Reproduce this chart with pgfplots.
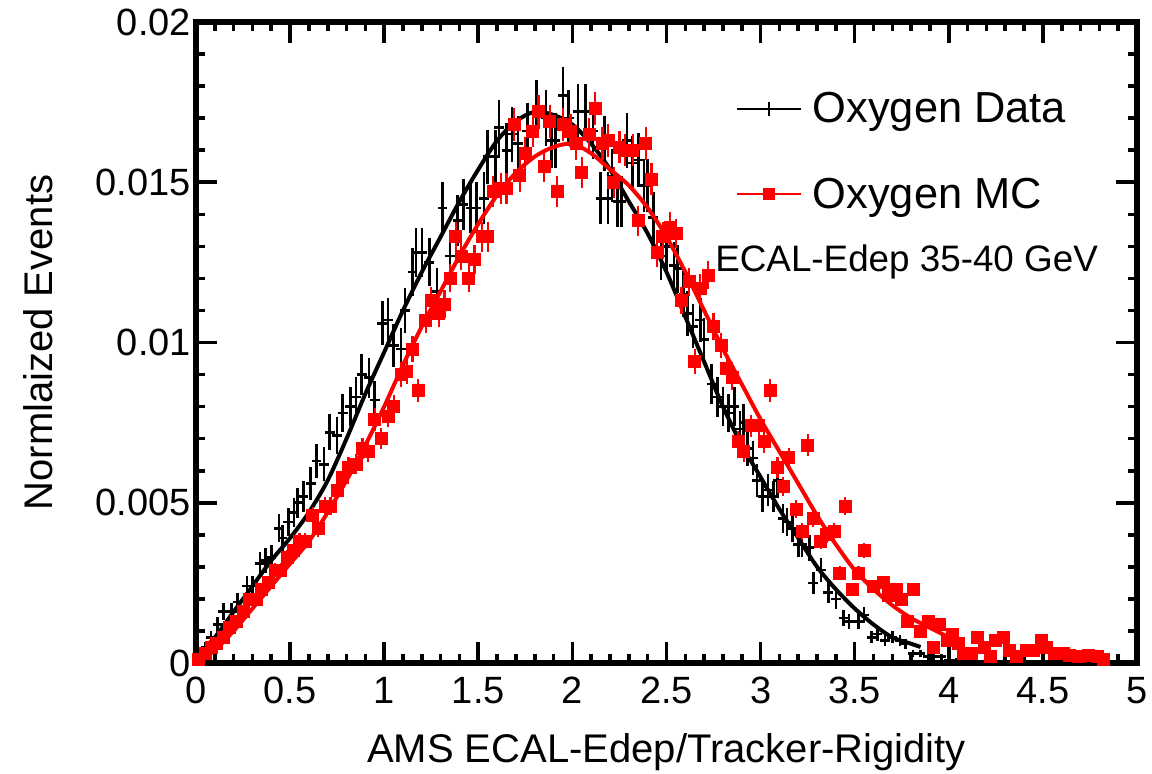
\documentclass[border=0pt]{standalone}
\usepackage{pgfplots}
\pgfplotsset{compat=1.18}
\usepackage{pgfplotstable}
\usepackage{fontspec}
\setmainfont{Liberation Sans}

\pgfplotstableread{
x y
0.02 0.0003
0.05 0.0005
0.08 0.0008
0.115 0.0012
0.145 0.0016
0.19 0.0016
0.22 0.0019
0.27 0.0024
0.30 0.0024
0.34 0.0031
0.37 0.0032
0.40 0.0033
0.44 0.0042
0.46 0.0039
0.49 0.0044
0.52 0.0047
0.54 0.0050
0.57 0.0052
0.61 0.0056
0.64 0.0063
0.68 0.0062
0.71 0.0072
0.75 0.0071
0.78 0.0078
0.82 0.0080
0.85 0.0083
0.88 0.0090
0.92 0.0089
0.95 0.0082
0.99 0.0106
1.02 0.0107
1.05 0.0099
1.09 0.0098
1.11 0.0110
1.15 0.0122
1.17 0.0128
1.20 0.0128
1.24 0.0125
1.28 0.0116
1.31 0.0142
1.35 0.0127
1.39 0.0138
1.42 0.0143
1.46 0.0142
1.49 0.0142
1.53 0.0145
1.55 0.0158
1.59 0.0158
1.61 0.0167
1.65 0.0160
1.68 0.0165
1.71 0.0162
1.76 0.0166
1.81 0.0173
1.86 0.0170
1.89 0.0163
1.91 0.0163
1.95 0.0177
1.98 0.0170
2.03 0.0172
2.07 0.0172
2.11 0.0166
2.15 0.0145
2.17 0.0162
2.19 0.0145
2.21 0.0152
2.24 0.0144
2.26 0.0144
2.29 0.0163
2.32 0.0156
2.35 0.0157
2.38 0.0149
2.40 0.0149
2.43 0.0139
2.47 0.0127
2.50 0.0130
2.54 0.0124
2.56 0.0123
2.59 0.0115
2.61 0.0109
2.64 0.0105
2.68 0.0107
2.70 0.0101
2.74 0.0087
2.77 0.0083
2.80 0.0080
2.83 0.0078
2.86 0.0080
2.89 0.0073
2.91 0.0075
2.93 0.0067
2.96 0.0064
2.98 0.0057
3.01 0.0052
3.04 0.0054
3.07 0.0052
3.09 0.0057
3.12 0.0045
3.14 0.0044
3.17 0.0042
3.20 0.0037
3.22 0.0037
3.26 0.0036
3.28 0.0025
3.32 0.0029
3.36 0.0022
3.40 0.0020
3.44 0.0014
3.47 0.0013
3.52 0.0013
3.55 0.0015
3.59 0.0008
3.62 0.0009
3.66 0.0007
3.70 0.0008
3.74 0.0007
3.77 0.0006
3.81 0.0003
3.85 0.0003
3.89 0.0002
3.92 0.0002
3.96 0.0002
4.00 0.0001
4.04 0.0001
4.08 0.0001
4.15 0.00005
4.22 0.00005
}\blackdata

\pgfplotstableread{
x y
0.015 0.0001
0.05 0.0003
0.08 0.0005
0.11 0.0006
0.145 0.0008
0.18 0.0011
0.215 0.0013
0.25 0.0016
0.285 0.0020
0.32 0.0020
0.35 0.0023
0.385 0.0025
0.42 0.0029
0.45 0.0029
0.485 0.0033
0.52 0.0035
0.55 0.0038
0.58 0.0038
0.62 0.0046
0.65 0.0042
0.685 0.0049
0.715 0.0049
0.75 0.0054
0.78 0.0058
0.81 0.0061
0.85 0.0062
0.885 0.0067
0.915 0.0066
0.95 0.0076
0.985 0.0070
1.02 0.0077
1.05 0.0080
1.09 0.0090
1.12 0.0091
1.15 0.0098
1.18 0.0085
1.22 0.0107
1.25 0.0113
1.29 0.0109
1.32 0.0112
1.35 0.0120
1.38 0.0133
1.41 0.0127
1.45 0.0120
1.48 0.0126
1.52 0.0133
1.55 0.0133
1.58 0.0147
1.62 0.0148
1.65 0.0148
1.69 0.0168
1.72 0.0152
1.75 0.0159
1.79 0.0166
1.82 0.0172
1.85 0.0155
1.88 0.0169
1.92 0.0147
1.95 0.0168
1.99 0.0166
2.02 0.0162
2.05 0.0153
2.09 0.0165
2.12 0.0173
2.16 0.0162
2.19 0.0163
2.22 0.0150
2.25 0.0161
2.28 0.0160
2.32 0.0160
2.35 0.0138
2.39 0.0162
2.42 0.0151
2.45 0.0128
2.48 0.0133
2.52 0.0136
2.55 0.0134
2.58 0.0113
2.62 0.0119
2.65 0.0094
2.68 0.0117
2.72 0.0121
2.75 0.0105
2.79 0.0099
2.82 0.0092
2.85 0.0089
2.88 0.0069
2.91 0.0066
2.95 0.0074
2.99 0.0074
3.02 0.0069
3.05 0.0085
3.09 0.0061
3.12 0.0055
3.15 0.0064
3.19 0.0048
3.22 0.0041
3.25 0.0068
3.28 0.0045
3.32 0.0038
3.35 0.0040
3.39 0.0041
3.42 0.0028
3.45 0.0049
3.49 0.0023
3.52 0.0028
3.55 0.0035
3.60 0.0024
3.65 0.0025
3.68 0.0021
3.72 0.0023
3.75 0.0020
3.78 0.0013
3.81 0.0023
3.85 0.0010
3.89 0.0013
3.92 0.0005
3.95 0.0012
3.99 0.0007
4.02 0.0009
4.05 0.0006
4.08 0.0003
4.12 0.0003
4.15 0.0008
4.19 0.0005
4.22 0.0002
4.25 0.0007
4.29 0.0008
4.32 0.0004
4.36 0.0002
4.41 0.0004
4.45 0.0004
4.49 0.0007
4.52 0.0005
4.56 0.0003
4.61 0.0003
4.64 0.00025
4.69 0.0002
4.74 0.00025
4.79 0.0002
4.82 0.0001
}\reddata

\begin{document}
\begin{tikzpicture}
\useasboundingbox (-98pt,-55pt) rectangle (478pt,331.5pt);
\begin{axis}[
  scale only axis,
  width=470.5pt, height=320.5pt,
  xmin=0, xmax=5, ymin=0, ymax=0.02,
  xtick={0,0.5,1,1.5,2,2.5,3,3.5,4,4.5,5},
  xticklabels={0,0.5,1,1.5,2,2.5,3,3.5,4,4.5,5},
  ytick={0,0.005,0.01,0.015,0.02},
  yticklabels={0,0.005,0.01,0.015,0.02},
  scaled y ticks=false,
  minor x tick num=4, minor y tick num=4,
  major tick length=10.5pt, minor tick length=4.5pt,
  tick style={black, line width=1.8pt},
  axis line style={line width=2.6pt},
  tick label style={font=\fontsize{19}{22}\selectfont},
  xticklabel style={yshift=-3.5pt},
  yticklabel style={xshift=1pt},
  xlabel={AMS ECAL-Edep/Tracker-Rigidity},
  ylabel={Normlaized Events},
  every axis x label/.style={at={(axis description cs:0.5,-0.139)}, anchor=center,
    font=\fontsize{20}{24}\selectfont},
  every axis y label/.style={at={(axis description cs:-0.168,0.5)}, rotate=90, anchor=center,
    font=\fontsize{20}{24}\selectfont},
  legend cell align=left,
  legend style={at={(rel axis cs:0.567,0.897)}, anchor=north west, draw=none, fill=none,
    font=\fontsize{21.7}{24}\selectfont, row sep=26pt, column sep=5.5pt,
    nodes={inner sep=0pt}},
]
\addplot[black, only marks, mark=*, mark size=0pt,
  legend image code/.code={
    \draw[black, line width=0.9pt] (0pt,0pt) -- (32pt,0pt);
    \draw[black, line width=0.9pt] (16pt,-3.5pt) -- (16pt,3.5pt);},
  error bars/.cd, y dir=both, y explicit, x dir=both, x fixed=0.026,
  error mark=none, error bar style={black, line width=1.3pt}]
  table[x=x, y=y, y error expr={0.0067*sqrt(\thisrow{y})}] {\blackdata};
\addlegendentry{Oxygen Data}
\addplot[black, line width=2pt, smooth, forget plot] coordinates {
(0,0.0002) (0.1,0.0008) (0.2,0.0016) (0.3,0.0024) (0.4,0.0032) (0.5,0.0039)
(0.6,0.0047) (0.7,0.0057) (0.8,0.0070) (0.9,0.0084) (1.0,0.0097) (1.1,0.0110)
(1.2,0.0122) (1.3,0.0133) (1.4,0.0144) (1.5,0.0154) (1.6,0.0163) (1.7,0.0169)
(1.8,0.0172) (1.9,0.0171) (2.0,0.0168) (2.1,0.0162) (2.2,0.0154) (2.3,0.0144)
(2.4,0.0134) (2.5,0.0122) (2.6,0.0108) (2.7,0.0094) (2.8,0.0080) (2.9,0.0068)
(3.0,0.0058) (3.1,0.0048) (3.2,0.0039) (3.3,0.0030) (3.4,0.0023) (3.5,0.0017)
(3.6,0.0012) (3.7,0.0008) (3.8,0.0006) (3.85,0.0005)};
\addplot[red, only marks, mark=square*, mark size=3pt, mark options={fill=red, draw=red},
  legend image code/.code={
    \draw[red, line width=0.9pt] (0pt,0pt) -- (32pt,0pt);
    \fill[red] (13.25pt,-2.75pt) rectangle (18.75pt,2.75pt);},
  error bars/.cd, y dir=both, y explicit, x dir=both, x fixed=0.0175,
  error mark=none, error bar style={red, line width=1.1pt}]
  table[x=x, y=y, y error expr={0.004*sqrt(\thisrow{y})}] {\reddata};
\addlegendentry{Oxygen MC}
\addplot[red, line width=2pt, smooth, forget plot] coordinates {
(0,0.0000) (0.1,0.0004) (0.2,0.0010) (0.3,0.0017) (0.4,0.0024) (0.5,0.0031)
(0.6,0.0038) (0.7,0.0047) (0.8,0.0057) (0.9,0.0068) (1.0,0.0080) (1.1,0.0093)
(1.2,0.0105) (1.3,0.0116) (1.4,0.0127) (1.5,0.0137) (1.6,0.0146) (1.7,0.0153)
(1.8,0.0158) (1.9,0.0161) (2.0,0.0162) (2.1,0.0159) (2.2,0.0154) (2.3,0.0149)
(2.4,0.0142) (2.5,0.0133) (2.6,0.0122) (2.7,0.0110) (2.8,0.0098) (2.9,0.0087)
(3.0,0.0076) (3.1,0.0066) (3.2,0.0056) (3.3,0.0046) (3.4,0.0037) (3.5,0.0029)
(3.6,0.0023) (3.7,0.0018) (3.8,0.0014) (3.9,0.0011) (4.0,0.0008)};
\node[anchor=west, inner sep=0pt, font=\fontsize{18.4}{22}\selectfont] at (rel axis cs:0.5515,0.6256) {ECAL-Edep 35-40 GeV};
\end{axis}
\end{tikzpicture}
\end{document}
